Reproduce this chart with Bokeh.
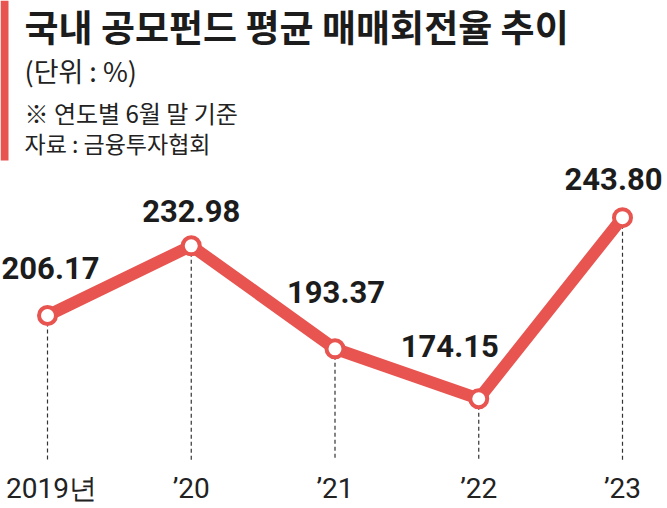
from bokeh.plotting import figure
from bokeh.models import ColumnDataSource, Label, BoxAnnotation, Range1d
from bokeh.core.properties import value
from bokeh.embed import file_html
from bokeh.resources import INLINE

# ---- data ----
years = ["2019년", "\u201920", "\u201921", "\u201922", "\u201923"]
rates = [206.17, 232.98, 193.37, 174.15, 243.80]
rate_labels = ["206.17", "232.98", "193.37", "174.15", "243.80"]

title = "국내 공모펀드 평균 매매회전율 추이"
unit = "(단위 : %)"
note = "※ 연도별 6월 말 기준"
source_note = "자료 : 금융투자협회"

# ---- layout ----
W, H = 667, 508
RED = "#e85450"
DARK = "#1c1c1c"

X0, DX = 47, 143.75
Y_REF_PX, Y_REF_V, K = 315, 206.17, 2.6

def py(px):
    """convert a y pixel (from top) into a value on the y scale"""
    return Y_REF_V - (px - Y_REF_PX) / K

xs = list(range(len(years)))

p = figure(width=W, height=H, output_backend="svg", toolbar_location=None,
           x_range=Range1d(-X0 / DX, (W - X0) / DX),
           y_range=Range1d(py(H), py(0)),
           min_border=0, min_border_left=0, min_border_right=0,
           min_border_top=0, min_border_bottom=0)
p.axis.visible = False
p.grid.visible = False
p.outline_line_color = None
p.background_fill_color = "white"
p.border_fill_color = "white"

# dashed drop lines
base = [py(460)] * len(xs)
p.segment(x0=xs, y0=rates, x1=xs, y1=base, line_color="#333333",
          line_width=1.2, line_dash="4 3")

# main line and markers
p.line(xs, rates, line_color=RED, line_width=12, line_join="round")
p.scatter(xs, rates, size=17, fill_color="white", line_color=RED, line_width=4)

# value labels (screen offsets: negative y moves up)
lab_dx = [3, 0, 1, -29, -9]
lab_dy = [-48, -35, -57, -53, -39]
src = ColumnDataSource(dict(x=xs, y=rates, t=rate_labels, dx=lab_dx, dy=lab_dy))
p.text(x="x", y="y", text="t", source=src, x_offset="dx", y_offset="dy",
       text_align="center", text_baseline="middle",
       text_font=value("Roboto"), text_font_style="bold",
       text_font_size="31px", text_color=DARK)

# x category labels
cat_dx = [4, 0, 0, 0, 0]
csrc = ColumnDataSource(dict(x=xs, y=[py(488)] * len(xs), t=years, dx=cat_dx))
p.text(x="x", y="y", text="t", source=csrc, x_offset="dx",
       text_align="center", text_baseline="middle",
       text_font=value("Roboto"), text_font_size="28px", text_color="#222222")

# left red bar
p.add_layout(BoxAnnotation(left=0, right=8, top=H, bottom=H - 160,
                           left_units="screen", right_units="screen",
                           top_units="screen", bottom_units="screen",
                           fill_color=RED, fill_alpha=1, line_color=None))

# header texts
def add_label(txt, y_center, size, bold=False, color=DARK):
    p.add_layout(Label(x=24, y=H - y_center, x_units="screen", y_units="screen",
                       text=txt, text_font="Noto Sans CJK KR",
                       text_font_style="bold" if bold else "normal",
                       text_font_size=size, text_color=color,
                       text_baseline="middle", text_align="left"))

add_label(title, 25, "37px", bold=True)
add_label(unit, 70, "27px", color="#222222")
add_label(note, 112, "24px", color="#222222")
add_label(source_note, 142, "23px", color="#222222")

open("out.html", "w").write(file_html(p, INLINE))
